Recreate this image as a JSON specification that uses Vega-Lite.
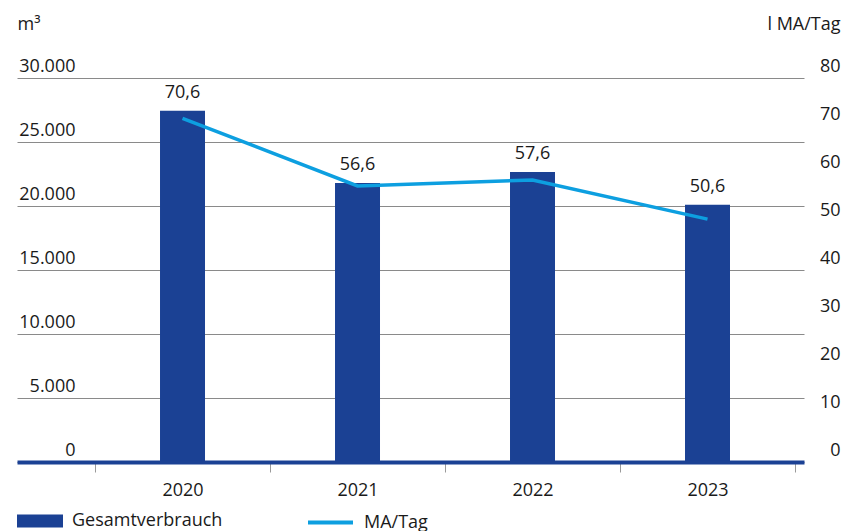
{
  "$schema": "https://vega.github.io/schema/vega-lite/v6.json",
  "width": 787,
  "height": 384,
  "autosize": {"type": "none"},
  "padding": {"left": 17, "top": 78, "right": 41, "bottom": 69},
  "background": "white",
  "config": {
    "view": {"stroke": null},
    "font": "Open Sans",
    "text": {"font": "Open Sans"}
  },
  "data": {
    "values": [
      {"jahr": "2020", "verbrauch": 27450, "ma": 71.6, "label": "70,6"},
      {"jahr": "2021", "verbrauch": 21800, "ma": 57.5, "label": "56,6"},
      {"jahr": "2022", "verbrauch": 22650, "ma": 58.75, "label": "57,6"},
      {"jahr": "2023", "verbrauch": 20100, "ma": 50.6, "label": "50,6"}
    ]
  },
  "encoding": {
    "x": {
      "field": "jahr",
      "type": "nominal",
      "scale": {"paddingInner": 0, "paddingOuter": 0.2486, "align": 0.8966},
      "axis": {
        "orient": "bottom",
        "title": null,
        "labelAngle": 0,
        "domainColor": "#1b4194",
        "domainWidth": 4,
        "tickColor": "#9a9a9a",
        "tickSize": 10,
        "tickWidth": 1,
        "tickBand": "extent",
        "labelFontSize": 18,
        "labelColor": "#1a1a1a",
        "labelPadding": 23,
        "labelBaseline": "alphabetic",
        "zindex": 1
      }
    }
  },
  "layer": [
    {
      "layer": [
        {
          "mark": {"type": "bar", "width": {"band": 0.2571}},
          "encoding": {
            "y": {
              "field": "verbrauch",
              "type": "quantitative",
              "scale": {"domain": [0, 30000], "nice": false},
              "axis": {
                "orient": "left",
                "values": [0, 5000, 10000, 15000, 20000, 25000, 30000],
                "grid": true,
                "gridColor": "#8a8a8a",
                "gridWidth": 1,
                "domain": false,
                "ticks": false,
                "tickSize": 0,
                "labelAlign": "right",
                "labelPadding": -58,
                "labelOffset": -7,
                "labelBaseline": "alphabetic",
                "labelFontSize": 18,
                "labelColor": "#1a1a1a",
                "labelExpr": "replace(format(datum.value, ','), ',', '.')",
                "title": "m³",
                "titleAngle": 0,
                "titleAlign": "left",
                "titleBaseline": "alphabetic",
                "titleX": 0,
                "titleY": -49,
                "titleFontSize": 18,
                "titleFontWeight": "normal",
                "titleColor": "#1a1a1a"
              }
            },
            "fill": {
              "datum": "Gesamtverbrauch",
              "type": "nominal",
              "scale": {"range": ["#1b4194"]},
              "legend": {
                "orient": "none",
                "legendX": 0,
                "legendY": 420,
                "title": null,
                "padding": 0,
                "symbolType": "M-1,-0.283H1V0.283H-1Z",
                "symbolSize": 2116,
                "symbolStrokeWidth": 0,
                "labelFontSize": 18,
                "labelOffset": 9,
                "labelColor": "#1a1a1a"
              }
            }
          }
        },
        {
          "mark": {"type": "text", "dy": -13, "baseline": "alphabetic", "fontSize": 18, "color": "#1a1a1a"},
          "encoding": {
            "y": {"field": "verbrauch", "type": "quantitative"},
            "text": {"field": "label", "type": "nominal"}
          }
        }
      ]
    },
    {
      "mark": {"type": "line", "strokeWidth": 3.5},
      "encoding": {
        "y": {
          "field": "ma",
          "type": "quantitative",
          "scale": {"domain": [0, 80], "nice": false},
          "axis": {
            "orient": "right",
            "values": [0, 10, 20, 30, 40, 50, 60, 70, 80],
            "grid": false,
            "domain": false,
            "ticks": false,
            "tickSize": 0,
            "labelAlign": "right",
            "labelPadding": 36,
            "labelOffset": -7,
            "labelBaseline": "alphabetic",
            "labelFontSize": 18,
            "labelColor": "#1a1a1a",
            "title": "l MA/Tag",
            "titleAngle": 0,
            "titleAlign": "right",
            "titleBaseline": "alphabetic",
            "titleX": 36,
            "titleY": -49,
            "titleFontSize": 18,
            "titleFontWeight": "normal",
            "titleColor": "#1a1a1a"
          }
        },
        "stroke": {
          "datum": "MA/Tag",
          "type": "nominal",
          "scale": {"range": ["#0d9fe0"]},
          "legend": {
            "orient": "none",
            "legendX": 289,
            "legendY": 420,
            "title": null,
            "padding": 0,
            "symbolType": "stroke",
            "symbolSize": 2025,
            "symbolStrokeWidth": 4,
            "labelFontSize": 18,
            "labelOffset": 9,
            "labelColor": "#1a1a1a"
          }
        }
      }
    }
  ],
  "resolve": {"scale": {"y": "independent"}}
}
